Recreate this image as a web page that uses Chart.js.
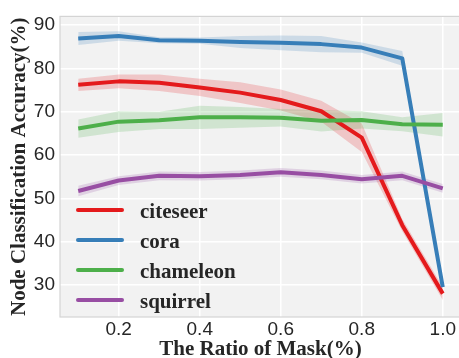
<!DOCTYPE html>
<html>
<head>
<meta charset="utf-8">
<script src="https://cdn.jsdelivr.net/npm/chart.js@4/dist/chart.umd.min.js"></script>
<style>
    html, body { margin: 0; padding: 0; background: #fff; overflow: hidden; }
    #wrap { position: absolute; left: 0; top: 0; width: 461px; height: 358px; }
</style>
</head>
<body>
<div id="wrap"><canvas id="chart" width="461" height="358"></canvas></div>
<script>
// Data
const maskRatios = [0.1, 0.2, 0.3, 0.4, 0.5, 0.6, 0.7, 0.8, 0.9, 1.0];
const seriesNames = ['citeseer', 'cora', 'chameleon', 'squirrel'];
const seriesColors = ['#e41a1c', '#377eb8', '#4daf4a', '#984ea3'];

const citeseerMean = [76.2, 77.0, 76.7, 75.6, 74.4, 72.7, 70.1, 64.0, 43.8, 28.0];
const citeseerSpread = [1.4, 1.6, 1.9, 2.0, 2.4, 2.4, 2.4, 3.3, 1.4, 1.5];
const coraMean = [86.9, 87.5, 86.5, 86.4, 86.1, 85.9, 85.6, 84.8, 82.3, 29.5];
const coraSpread = [1.5, 1.1, 0.7, 0.7, 1.4, 1.7, 1.9, 1.2, 1.7, 0.5];
const chameleonMean = [66.1, 67.7, 68.0, 68.7, 68.7, 68.6, 67.9, 68.1, 67.1, 67.0];
const chameleonSpread = [2.1, 2.4, 2.0, 2.7, 2.4, 2.0, 2.5, 2.0, 1.6, 2.7];
const squirrelMean = [51.7, 54.1, 55.2, 55.1, 55.4, 56.0, 55.4, 54.4, 55.2, 52.3];
const squirrelSpread = [1.2, 1.0, 1.0, 1.0, 1.0, 1.0, 1.0, 1.0, 1.0, 1.0];

const xTicks = [0.2, 0.4, 0.6, 0.8, 1.0];
const yTicks = [30, 40, 50, 60, 70, 80, 90];

const allMeans = [citeseerMean, coraMean, chameleonMean, squirrelMean];
const allSpreads = [citeseerSpread, coraSpread, chameleonSpread, squirrelSpread];

function hexToRgba(hex, alpha) {
    const n = parseInt(hex.slice(1), 16);
    return `rgba(${(n >> 16) & 255}, ${(n >> 8) & 255}, ${n & 255}, ${alpha})`;
}

function toPoints(values) {
    return values.map((v, i) => ({ x: maskRatios[i], y: v }));
}

// Build datasets: a band (upper filled to lower) plus the mean line per series
const datasets = [];
seriesNames.forEach((name, s) => {
    const mean = allMeans[s];
    const spread = allSpreads[s];
    datasets.push({
        label: name + ' upper',
        data: toPoints(mean.map((v, i) => v + spread[i])),
        borderWidth: 0,
        pointRadius: 0,
        fill: '+1',
        backgroundColor: hexToRgba(seriesColors[s], 0.2),
        order: 20 - s * 2
    });
    datasets.push({
        label: name + ' lower',
        data: toPoints(mean.map((v, i) => v - spread[i])),
        borderWidth: 0,
        pointRadius: 0,
        fill: false,
        order: 19 - s * 2
    });
});
seriesNames.forEach((name, s) => {
    datasets.push({
        label: name,
        isMain: true,
        data: toPoints(allMeans[s]),
        borderColor: seriesColors[s],
        borderWidth: 4,
        pointRadius: 0,
        fill: false,
        tension: 0,
        borderJoinStyle: 'round',
        order: 8 - s
    });
});

// Plot background and frame
const plotFrame = {
    id: 'plotFrame',
    beforeDraw(chart) {
        const { ctx, chartArea: a } = chart;
        ctx.save();
        ctx.fillStyle = '#f2f2f2';
        ctx.fillRect(a.left, a.top, a.right - a.left, a.bottom - a.top);
        ctx.restore();
    },
    beforeDatasetsDraw(chart) {
        const { ctx, chartArea: a } = chart;
        ctx.save();
        ctx.strokeStyle = '#d4d4d4';
        ctx.lineWidth = 1.2;
        ctx.strokeRect(a.left, a.top, a.right - a.left, a.bottom - a.top);
        ctx.restore();
    }
};

// Legend drawn inside the plot, lower left
const insideLegend = {
    id: 'insideLegend',
    afterDatasetsDraw(chart) {
        const { ctx, chartArea: a } = chart;
        const mains = chart.data.datasets.filter(d => d.isMain);
        ctx.save();
        mains.forEach((d, i) => {
            const y = a.bottom - 17 - (mains.length - 1 - i) * 30;
            ctx.strokeStyle = d.borderColor;
            ctx.lineWidth = 4;
            ctx.lineCap = 'round';
            ctx.beginPath();
            ctx.moveTo(a.left + 18, y);
            ctx.lineTo(a.left + 62, y);
            ctx.stroke();
            ctx.fillStyle = '#262626';
            ctx.font = 'bold 21px "Liberation Serif"';
            ctx.textBaseline = 'alphabetic';
            ctx.fillText(d.label, a.left + 80, y + 8);
        });
        ctx.restore();
    }
};

new Chart(document.getElementById('chart'), {
    type: 'line',
    data: { datasets: datasets },
    options: {
        responsive: false,
        animation: false,
        layout: { padding: { top: 6, right: 0, left: 0, bottom: 0 } },
        plugins: {
            legend: { display: false },
            tooltip: { enabled: false }
        },
        scales: {
            x: {
                type: 'linear',
                min: 0.055,
                max: 1.045,
                afterBuildTicks: scale => { scale.ticks = xTicks.map(v => ({ value: v })); },
                afterFit: scale => { scale.height = 41; },
                ticks: {
                    callback: v => v.toFixed(1),
                    color: '#262626',
                    font: { family: '"Liberation Sans"', size: 19 },
                    padding: 1,
                    maxRotation: 0
                },
                grid: { color: '#ffffff', lineWidth: 1.5, drawTicks: false },
                border: { display: false },
                title: {
                    display: true,
                    text: 'The Ratio of Mask(%)',
                    color: '#262626',
                    font: { family: '"Liberation Serif"', size: 21, weight: 'bold', lineHeight: 0.8 },
                    padding: 0
                }
            },
            y: {
                min: 22.6,
                max: 92,
                afterBuildTicks: scale => { scale.ticks = yTicks.map(v => ({ value: v })); },
                afterFit: scale => { scale.width = 60; },
                ticks: {
                    color: '#262626',
                    font: { family: '"Liberation Sans"', size: 19 },
                    padding: 5
                },
                grid: { color: '#ffffff', lineWidth: 1.5, drawTicks: false },
                border: { display: false },
                title: {
                    display: true,
                    text: 'Node Classification Accuracy(%)',
                    color: '#262626',
                    font: { family: '"Liberation Serif"', size: 21, weight: 'bold', lineHeight: 1 },
                    padding: { top: 9, bottom: 0 }
                }
            }
        }
    },
    plugins: [plotFrame, insideLegend]
});
</script>
</body>
</html>
